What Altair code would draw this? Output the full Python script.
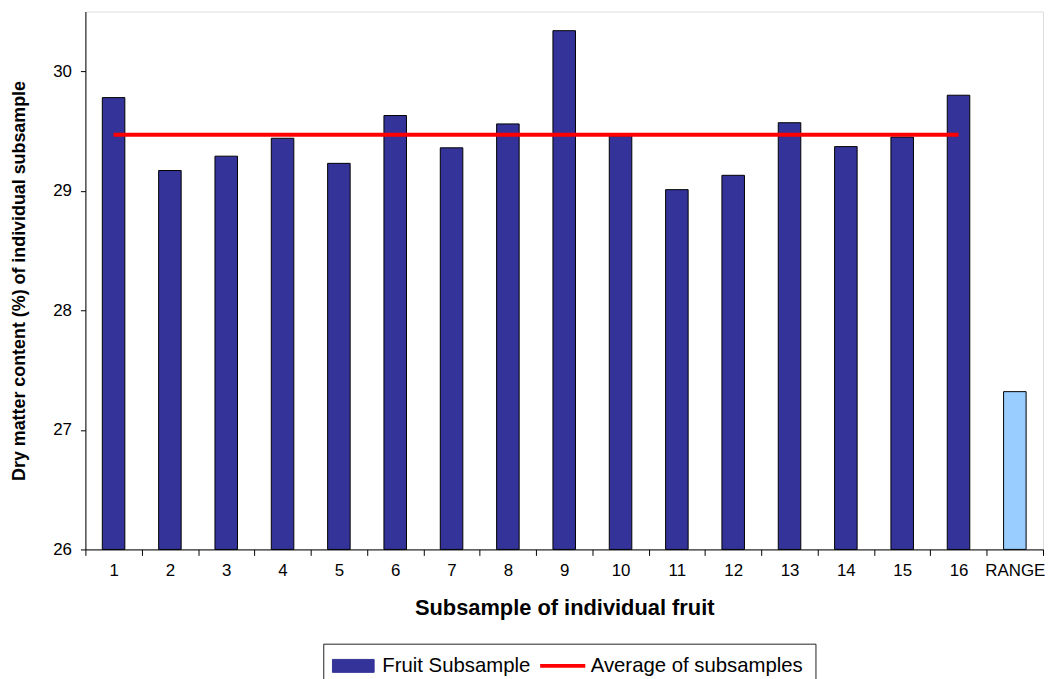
import altair as alt
import pandas as pd

categories = [str(i) for i in range(1, 17)] + ["RANGE"]
subsample_labels = [str(i) for i in range(1, 17)]
subsample_values = [29.78, 29.17, 29.29, 29.44, 29.23, 29.63, 29.36, 29.56,
                    30.34, 29.46, 29.01, 29.13, 29.57, 29.37, 29.45, 29.80]
range_label = ["RANGE"]
range_value = [27.32]
average_value = 29.47
y_ticks = [26, 27, 28, 29, 30]

bars_df = pd.DataFrame({"cat": subsample_labels, "value": subsample_values,
                        "series": "Fruit Subsample"})
range_df = pd.DataFrame({"cat": range_label, "value": range_value})
avg_df = pd.DataFrame({"cat": subsample_labels,
                       "value": [average_value] * len(subsample_labels),
                       "series": "Average of subsamples"})

FONT = "Liberation Sans"

x_scale = alt.Scale(domain=categories, paddingInner=0, paddingOuter=0)
y_scale = alt.Scale(domain=[26, 30.5], nice=False, zero=False)

x_axis = alt.Axis(title="Subsample of individual fruit", tickBand="extent",
                  labelAngle=0, labelFontSize=17, labelFont=FONT, labelColor="black",
                  tickSize=6, labelPadding=7, titleFont=FONT, titleFontSize=22,
                  titleFontWeight="bold", titleColor="black", titleY=66,
                  titleBaseline="alphabetic", domainColor="black", tickColor="black")
y_axis = alt.Axis(title="Dry matter content (%) of individual subsample",
                  values=y_ticks, format="d", grid=False, labelFontSize=17, labelFont=FONT,
                  labelColor="black", tickSize=5, labelPadding=9, titleFont=FONT,
                  titleFontSize=18, titleFontWeight="bold", titleColor="black",
                  titleX=-61, titleY=271, titleBaseline="alphabetic",
                  domainColor="black", tickColor="black")

color_scale = alt.Scale(domain=["Fruit Subsample", "Average of subsamples"],
                        range=["#333399", "#FF0000"])

is_bar = "datum.value === 'Fruit Subsample'"
legend = alt.Legend(
    title=None, orient="none", direction="horizontal", legendX=239.7, legendY=637,
    padding=12, strokeColor="#222222", labelFontSize=20.5, labelFont=FONT,
    labelColor="black", labelLimit=0, symbolSize=196, symbolOffset=8, labelOffset=19,
    columnPadding=1, symbolOpacity=1,
    symbolType=alt.ExprRef(expr=f"{is_bar} ? 'M-3,-0.93H3V0.93H-3Z' : 'M-3.1,0H3.4'"),
    symbolFillColor=alt.ExprRef(expr=f"{is_bar} ? '#333399' : 'transparent'"),
    symbolStrokeColor=alt.ExprRef(expr=f"{is_bar} ? '#000000' : '#FF0000'"),
    symbolStrokeWidth=alt.ExprRef(expr=f"{is_bar} ? 1 : 4"),
)

bars = alt.Chart(bars_df).mark_bar(stroke="black", strokeWidth=1,
                                   width=alt.RelativeBandSize(0.4)).encode(
    x=alt.X("cat:N", scale=x_scale, axis=x_axis, sort=categories),
    y=alt.Y("value:Q", scale=y_scale, axis=y_axis),
    y2=alt.datum(26),
    color=alt.Color("series:N", scale=color_scale, legend=legend),
)

range_bar = alt.Chart(range_df).mark_bar(stroke="black", strokeWidth=1, color="#99CCFF",
                                         width=alt.RelativeBandSize(0.4)).encode(
    x=alt.X("cat:N", scale=x_scale, sort=categories),
    y=alt.Y("value:Q", scale=y_scale),
    y2=alt.datum(26),
)

avg_line = alt.Chart(avg_df).mark_line(strokeWidth=4).encode(
    x=alt.X("cat:N", scale=x_scale, sort=categories),
    y=alt.Y("value:Q", scale=y_scale),
    color=alt.Color("series:N", scale=color_scale, legend=legend),
)

chart = alt.layer(bars, range_bar, avg_line).properties(
    width=965, height=542,
    autosize=alt.AutoSizeParams(type="none"),
    padding={"left": 78, "top": 1, "right": 2, "bottom": 128},
).configure_view(stroke="#808080", strokeWidth=1).configure(background="white")

chart.save("out.html", embed_options={"renderer": "svg", "actions": False})
